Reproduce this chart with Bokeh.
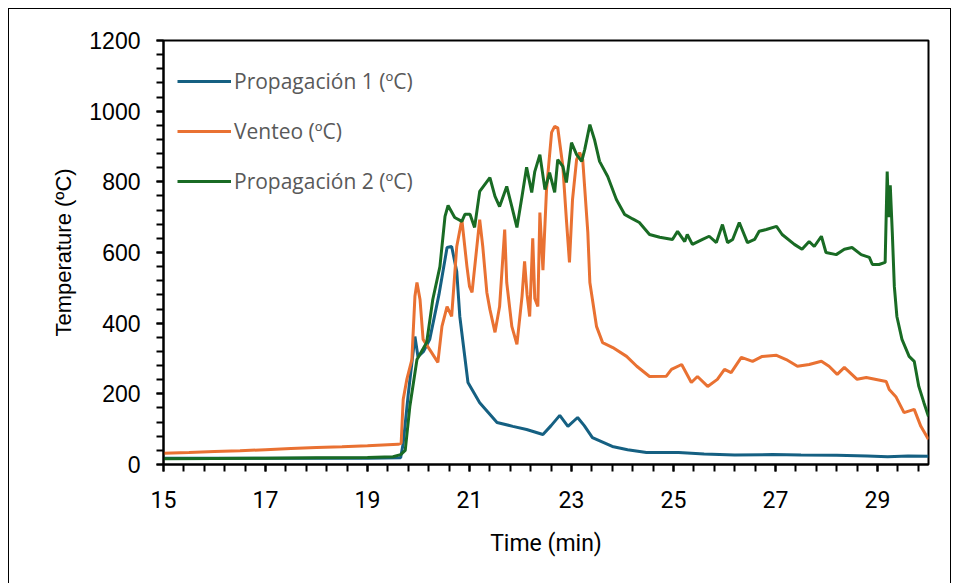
from bokeh.plotting import figure
from bokeh.models import FixedTicker, Legend, LegendItem, Range1d
from bokeh.embed import file_html
from bokeh.resources import INLINE

# ---- data ----
series_names = ["Propagación 1 (ºC)", "Venteo (ºC)", "Propagación 2 (ºC)"]
series_colors = ["#156082", "#E97132", "#196B24"]

t_p1 = [15, 16, 17, 18, 19, 19.65, 19.70, 19.80, 19.93, 19.99, 20.1, 20.22, 20.4, 20.56,
        20.65, 20.75, 20.81, 20.97, 21.2, 21.54, 21.85, 22.12, 22.44, 22.6, 22.77, 22.93,
        23.12, 23.25, 23.41, 23.8, 24.1, 24.47, 25.1, 25.6, 26.2, 26.94, 27.5, 28.2, 28.8,
        29.2, 29.6, 30.0]
p1 = [18, 18, 18, 18, 18, 19, 60, 200, 362, 305, 320, 354, 480, 614,
      617, 546, 419, 232, 175, 119, 108, 99, 85, 110, 139, 108,
      133, 110, 76, 51, 42, 34, 34, 30, 27, 28, 27, 26, 24,
      22, 24, 23]

t_v = [15, 15.5, 16, 16.5, 17, 17.5, 18, 18.5, 19, 19.6, 19.66, 19.70, 19.77, 19.87, 19.93,
       19.97, 20.03, 20.09, 20.22, 20.38, 20.46, 20.56, 20.65, 20.75, 20.85, 20.95, 21.0,
       21.05, 21.2, 21.26, 21.34, 21.4, 21.5, 21.59, 21.69, 21.73, 21.83, 21.93, 22.03,
       22.08, 22.13, 22.18, 22.24, 22.28, 22.34, 22.38, 22.44, 22.51, 22.61, 22.67, 22.73,
       22.83, 22.9, 22.96, 23.02, 23.1, 23.16, 23.22, 23.32, 23.36, 23.49, 23.61, 23.81,
       24.08, 24.28, 24.53, 24.86, 24.96, 25.16, 25.35, 25.47, 25.67, 25.86, 26.0, 26.13,
       26.33, 26.55, 26.74, 27.02, 27.21, 27.43, 27.66, 27.9, 28.05, 28.21, 28.35, 28.6,
       28.78, 29.17, 29.23, 29.36, 29.52, 29.72, 29.85, 30.0]
venteo = [32, 34, 37, 39, 42, 45, 48, 50, 53, 57, 60, 184, 240, 297, 476,
          515, 467, 354, 325, 289, 391, 447, 419, 617, 693, 560, 504,
          487, 693, 617, 487, 439, 374, 447, 665, 515, 391, 340, 476,
          575, 480, 419, 640, 470, 447, 713, 550, 778, 940, 957, 953,
          844, 693, 572, 750, 863, 883, 863, 657, 515, 391, 345, 331,
          306, 278, 249, 250, 269, 283, 232, 249, 221, 241, 269, 260,
          303, 292, 306, 309, 297, 278, 283, 292, 278, 255, 275, 241,
          246, 235, 212, 192, 147, 156, 108, 71]

t_p2 = [15, 16, 17, 18, 19, 19.5, 19.65, 19.74, 19.83, 19.97, 20.16, 20.28, 20.42, 20.52,
        20.58, 20.71, 20.85, 20.91, 21.01, 21.1, 21.2, 21.4, 21.5, 21.59, 21.73, 21.83,
        21.93, 22.03, 22.12, 22.22, 22.28, 22.38, 22.48, 22.57, 22.67, 22.73, 22.83, 22.9,
        23.0, 23.1, 23.2, 23.26, 23.36, 23.45, 23.55, 23.71, 23.88, 24.04, 24.2, 24.33,
        24.53, 24.73, 24.98, 25.08, 25.22, 25.27, 25.37, 25.57, 25.7, 25.84, 25.96, 26.06,
        26.16, 26.29, 26.45, 26.59, 26.68, 26.82, 27.02, 27.13, 27.37, 27.52, 27.66, 27.76,
        27.9, 27.99, 28.19, 28.35, 28.5, 28.68, 28.84, 28.9, 29.03, 29.15, 29.19, 29.22,
        29.25, 29.29, 29.33, 29.38, 29.48, 29.62, 29.72, 29.81, 29.91, 30.0]
p2 = [16, 17, 18, 19, 20, 22, 28, 40, 164, 297, 345, 467, 560, 702,
      733, 699, 688, 708, 708, 671, 773, 812, 759, 730, 787, 730,
      671, 759, 841, 770, 829, 877, 778, 826, 770, 863, 844, 798,
      911, 877, 858, 892, 962, 920, 858, 815, 750, 708, 695, 685,
      651, 643, 637, 660, 631, 651, 623, 637, 646, 628, 679, 628,
      637, 685, 628, 637, 660, 665, 674, 651, 623, 609, 631, 617,
      646, 600, 594, 609, 614, 594, 586, 566, 566, 572, 829, 700,
      790, 657, 504, 419, 354, 306, 292, 221, 175, 136]

x_major = [15, 17, 19, 21, 23, 25, 27, 29]
y_major = [0, 200, 400, 600, 800, 1000, 1200]

# ---- figure ----
p = figure(width=943, height=576, output_backend="svg", toolbar_location=None,
           x_range=Range1d(15, 30), y_range=Range1d(0, 1200),
           min_border_left=154, min_border_right=24, min_border_top=31, min_border_bottom=121,
           x_axis_label="Time (min)", y_axis_label="Temperature (ºC)")
p.styles = {"border": "1px solid #000000", "margin": "8px 0px 0px 8px"}
p.grid.visible = False
p.outline_line_color = "#000000"
p.outline_line_width = 2
p.background_fill_color = "white"
p.border_fill_color = "white"

minor_x = [15 + 0.4 * i for i in range(38)]
p.xaxis.ticker = FixedTicker(ticks=x_major, minor_ticks=minor_x)
minor_y = [40 * i for i in range(31)]
p.yaxis.ticker = FixedTicker(ticks=y_major, minor_ticks=minor_y)

for ax in (p.xaxis[0], p.yaxis[0]):
    ax.axis_line_width = 2
    ax.axis_line_color = "#000000"
    ax.major_tick_line_width = 2
    ax.minor_tick_line_width = 2
    ax.major_tick_line_color = "#000000"
    ax.minor_tick_line_color = "#000000"
    ax.major_tick_in = 0
    ax.major_tick_out = 7
    ax.minor_tick_in = 0
    ax.minor_tick_out = 7
    ax.major_label_text_color = "#000000"
    ax.axis_label_text_color = "#000000"
    ax.axis_label_text_font_style = "normal"

p.xaxis.major_label_text_font = "Roboto"
p.xaxis.major_label_text_font_size = "23px"
p.xaxis.major_label_standoff = 19
p.xaxis.axis_label_text_font = "Roboto"
p.xaxis.axis_label_text_font_size = "23px"
p.xaxis.axis_label_standoff = 19

p.yaxis.major_label_text_font = "Liberation Sans"
p.yaxis.major_label_text_font_size = "23px"
p.yaxis.major_label_standoff = 16
p.yaxis.axis_label_text_font = "Liberation Sans"
p.yaxis.axis_label_text_font_size = "22px"
p.yaxis.axis_label_standoff = 10

r1 = p.line(t_p1, p1, line_color=series_colors[0], line_width=3)
r2 = p.line(t_v, venteo, line_color=series_colors[1], line_width=3)
r3 = p.line(t_p2, p2, line_color=series_colors[2], line_width=3)

legend = Legend(items=[LegendItem(label=series_names[0], renderers=[r1]),
                       LegendItem(label=series_names[1], renderers=[r2]),
                       LegendItem(label=series_names[2], renderers=[r3])],
                location=(14, 269), orientation="vertical",
                glyph_width=54, glyph_height=20, label_height=20,
                spacing=22, padding=0, margin=0, label_standoff=3,
                border_line_color=None, background_fill_alpha=0,
                label_text_font="Open Sans", label_text_font_size="21px",
                label_text_color="#595959")
p.add_layout(legend, "center")

open("out.html", "w").write(file_html(p, INLINE))
